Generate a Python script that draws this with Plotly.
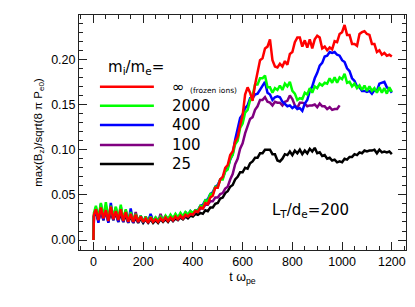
import plotly.graph_objects as go

# time axis (t omega_pe)
t = [0, 2] + list(range(10, 1201, 10))

red_inf = [0.0, 0.028,
    0.034, 0.022, 0.036, 0.024, 0.033, 0.021, 0.037, 0.023, 0.032, 0.022,
    0.034, 0.021, 0.031, 0.020, 0.029, 0.020, 0.028, 0.020, 0.026, 0.020,
    0.024, 0.019, 0.025, 0.020, 0.023, 0.020, 0.024, 0.021, 0.025, 0.021,
    0.025, 0.022, 0.026, 0.023, 0.027, 0.024, 0.028, 0.026, 0.029, 0.028,
    0.032, 0.031, 0.036, 0.035, 0.041, 0.040, 0.047, 0.049, 0.058, 0.058,
    0.067, 0.070, 0.080, 0.083, 0.094, 0.098, 0.109, 0.114, 0.127, 0.138,
    0.161, 0.169, 0.163, 0.154, 0.172, 0.184, 0.199, 0.201, 0.212, 0.214,
    0.222, 0.199, 0.192, 0.191, 0.195, 0.192, 0.198, 0.194, 0.206, 0.208,
    0.219, 0.224, 0.224, 0.214, 0.221, 0.213, 0.222, 0.212, 0.222, 0.226,
    0.224, 0.212, 0.214, 0.210, 0.213, 0.211, 0.220, 0.219, 0.228, 0.230,
    0.238, 0.227, 0.227, 0.217, 0.217, 0.215, 0.228, 0.230, 0.231, 0.228,
    0.227, 0.217, 0.217, 0.208, 0.210, 0.205, 0.207, 0.204, 0.205, 0.203]

green_2000 = [0.0, 0.030,
    0.038, 0.024, 0.041, 0.025, 0.042, 0.023, 0.038, 0.025, 0.037, 0.023,
    0.039, 0.022, 0.034, 0.021, 0.031, 0.021, 0.029, 0.021, 0.027, 0.020,
    0.026, 0.020, 0.026, 0.021, 0.025, 0.021, 0.026, 0.022, 0.027, 0.023,
    0.028, 0.024, 0.029, 0.025, 0.030, 0.026, 0.031, 0.028, 0.032, 0.030,
    0.033, 0.032, 0.038, 0.037, 0.044, 0.043, 0.051, 0.051, 0.059, 0.059,
    0.067, 0.067, 0.076, 0.078, 0.090, 0.094, 0.106, 0.110, 0.124, 0.129,
    0.141, 0.144, 0.155, 0.160, 0.172, 0.172, 0.179, 0.179, 0.182, 0.169,
    0.169, 0.163, 0.168, 0.166, 0.171, 0.166, 0.173, 0.170, 0.175, 0.165,
    0.162, 0.155, 0.157, 0.156, 0.163, 0.161, 0.168, 0.163, 0.170, 0.168,
    0.173, 0.171, 0.174, 0.173, 0.179, 0.174, 0.180, 0.174, 0.180, 0.178,
    0.184, 0.174, 0.175, 0.170, 0.173, 0.168, 0.171, 0.166, 0.171, 0.165,
    0.170, 0.165, 0.168, 0.163, 0.169, 0.163, 0.168, 0.162, 0.169, 0.164]

blue_400 = [0.0, 0.026,
    0.036, 0.019, 0.040, 0.022, 0.035, 0.019, 0.041, 0.022, 0.034, 0.020,
    0.037, 0.020, 0.033, 0.019, 0.035, 0.019, 0.028, 0.020, 0.027, 0.019,
    0.026, 0.019, 0.029, 0.020, 0.025, 0.020, 0.026, 0.021, 0.027, 0.022,
    0.027, 0.023, 0.028, 0.024, 0.029, 0.025, 0.031, 0.027, 0.032, 0.029,
    0.033, 0.033, 0.038, 0.039, 0.044, 0.045, 0.051, 0.053, 0.059, 0.061,
    0.067, 0.069, 0.076, 0.080, 0.089, 0.095, 0.111, 0.124, 0.135, 0.139,
    0.146, 0.149, 0.157, 0.157, 0.161, 0.162, 0.166, 0.171, 0.175, 0.163,
    0.161, 0.155, 0.158, 0.159, 0.158, 0.153, 0.151, 0.148, 0.149, 0.146,
    0.148, 0.145, 0.146, 0.143, 0.151, 0.155, 0.165, 0.170, 0.179, 0.185,
    0.193, 0.196, 0.203, 0.204, 0.208, 0.207, 0.208, 0.205, 0.204, 0.199,
    0.197, 0.190, 0.187, 0.179, 0.176, 0.170, 0.169, 0.165, 0.165, 0.164,
    0.165, 0.162, 0.166, 0.165, 0.173, 0.174, 0.175, 0.169, 0.167, 0.163]

purple_100 = [0.0, 0.027,
    0.033, 0.021, 0.035, 0.023, 0.038, 0.022, 0.034, 0.024, 0.036, 0.021,
    0.033, 0.022, 0.032, 0.020, 0.030, 0.020, 0.031, 0.020, 0.026, 0.020,
    0.025, 0.020, 0.028, 0.020, 0.025, 0.020, 0.029, 0.021, 0.026, 0.021,
    0.026, 0.022, 0.027, 0.023, 0.026, 0.024, 0.027, 0.026, 0.029, 0.028,
    0.032, 0.031, 0.035, 0.035, 0.039, 0.039, 0.043, 0.043, 0.047, 0.047,
    0.051, 0.052, 0.057, 0.059, 0.067, 0.073, 0.084, 0.090, 0.101, 0.107,
    0.118, 0.125, 0.134, 0.136, 0.144, 0.148, 0.155, 0.155, 0.158, 0.153,
    0.152, 0.149, 0.153, 0.152, 0.152, 0.149, 0.153, 0.154, 0.160, 0.156,
    0.149, 0.146, 0.152, 0.152, 0.151, 0.148, 0.149, 0.149, 0.150, 0.147,
    0.151, 0.148, 0.148, 0.145, 0.147, 0.144, 0.145, 0.145, 0.149]

black_25 = [0.0, 0.026,
    0.032, 0.021, 0.034, 0.022, 0.033, 0.020, 0.032, 0.022, 0.031, 0.020,
    0.030, 0.020, 0.028, 0.019, 0.027, 0.019, 0.025, 0.019, 0.024, 0.019,
    0.023, 0.019, 0.023, 0.019, 0.022, 0.019, 0.023, 0.020, 0.023, 0.020,
    0.024, 0.021, 0.024, 0.022, 0.025, 0.023, 0.026, 0.024, 0.027, 0.026,
    0.029, 0.028, 0.030, 0.029, 0.033, 0.032, 0.036, 0.036, 0.040, 0.041,
    0.046, 0.047, 0.052, 0.054, 0.059, 0.061, 0.067, 0.070, 0.075, 0.075,
    0.080, 0.079, 0.085, 0.087, 0.091, 0.091, 0.096, 0.096, 0.100, 0.100,
    0.100, 0.095, 0.095, 0.088, 0.087, 0.090, 0.095, 0.094, 0.098, 0.094,
    0.099, 0.096, 0.100, 0.095, 0.099, 0.096, 0.101, 0.098, 0.102, 0.096,
    0.097, 0.093, 0.094, 0.090, 0.091, 0.088, 0.089, 0.086, 0.087, 0.086,
    0.090, 0.089, 0.092, 0.092, 0.095, 0.094, 0.097, 0.096, 0.099, 0.098,
    0.099, 0.099, 0.100, 0.096, 0.100, 0.097, 0.098, 0.097, 0.098, 0.095]

x_ticks = [0, 200, 400, 600, 800, 1000, 1200]
y_ticks = [0.00, 0.05, 0.10, 0.15, 0.20]

series = [
    ("25", black_25, "#000000"),
    ("100", purple_100, "#800080"),
    ("400", blue_400, "#0000ff"),
    ("2000", green_2000, "#00ff00"),
    ("∞", red_inf, "#ff0000"),
]

fig = go.Figure()
for name, vals, col in series:
    fig.add_trace(go.Scatter(x=t[:len(vals)], y=vals, mode="lines", name=name,
                             line=dict(color=col, width=2.5), showlegend=False))

# hand-drawn legend (as in the original figure)
legend_order = ["∞", "2000", "400", "100", "25"]
legend_colors = {"∞": "#ff0000", "2000": "#00ff00", "400": "#0000ff", "100": "#800080", "25": "#000000"}
legend_y = [0.695, 0.614, 0.532, 0.447, 0.366]
for lab, yp in zip(legend_order, legend_y):
    fig.add_shape(type="line", xref="paper", yref="paper", x0=0.064, x1=0.229, y0=yp, y1=yp,
                  line=dict(color=legend_colors[lab], width=2.5))
    fig.add_annotation(xref="paper", yref="paper", x=0.278, y=yp, text=lab, showarrow=False,
                       xanchor="left", yanchor="middle",
                       font=dict(family="DejaVu Sans", size=15, color="black"))
fig.add_annotation(xref="paper", yref="paper", x=0.333, y=0.680, text="(frozen ions)", showarrow=False,
                   xanchor="left", yanchor="middle", font=dict(family="DejaVu Sans", size=7.5, color="black"))
fig.add_annotation(xref="paper", yref="paper", x=0.083, y=0.775, text="m<sub>i</sub>/m<sub>e</sub>=",
                   showarrow=False, xanchor="left", yanchor="middle",
                   font=dict(family="DejaVu Sans", size=15, color="black"))
fig.add_annotation(xref="paper", yref="paper", x=0.584, y=0.170, text="L<sub>T</sub>/d<sub>e</sub>=200",
                   showarrow=False, xanchor="left", yanchor="middle",
                   font=dict(family="DejaVu Sans", size=15, color="black"))

axis_common = dict(showline=True, linecolor="#222", linewidth=1, mirror="allticks",
                   ticks="inside", ticklen=8, tickwidth=1, tickcolor="#222",
                   showgrid=False, zeroline=False,
                   tickfont=dict(family="Liberation Sans", size=12.5, color="black"))

fig.update_xaxes(range=[-58, 1257], tickvals=x_ticks,
                 minor=dict(dtick=50, ticklen=4, ticks="inside", tickcolor="#222", showgrid=False),
                 title=dict(text="t ω<sub>pe</sub>", font=dict(family="Liberation Sans", size=12.5, color="black"), standoff=4),
                 **axis_common)
fig.update_yaxes(range=[-0.011, 0.249], tickvals=y_ticks, tickformat=".2f",
                 minor=dict(dtick=0.01, ticklen=4, ticks="inside", tickcolor="#222", showgrid=False),
                 title=dict(text="max(B<sub>z</sub>)/sqrt(8 π P<sub>e0</sub>)",
                            font=dict(family="Liberation Sans", size=11.5, color="black"), standoff=6),
                 **axis_common)

fig.update_layout(width=415, height=307, margin=dict(l=79, r=9, t=15, b=57),
                  plot_bgcolor="white", paper_bgcolor="white", showlegend=False)

fig.write_html("out.html", config={"displayModeBar": False},
               post_script="document.body.style.margin='0';document.body.style.overflow='hidden';")
